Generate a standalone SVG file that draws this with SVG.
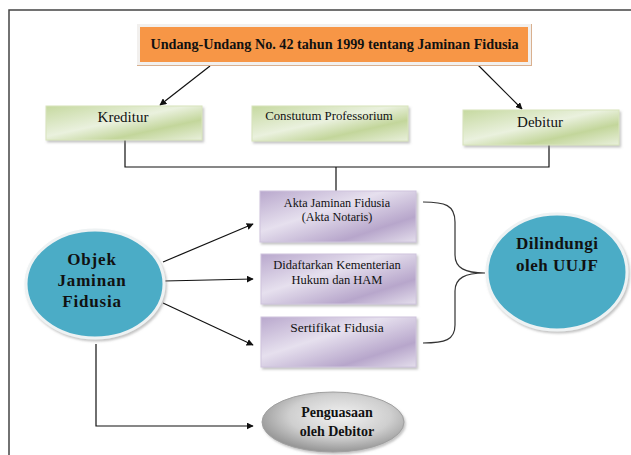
<svg xmlns="http://www.w3.org/2000/svg" width="631" height="455" viewBox="0 0 631 455" font-family="'Liberation Serif', serif">
<defs>
<style>
text{font-family:'Liberation Serif','Times New Roman',serif;fill:#111;text-anchor:middle}
.b{font-weight:bold}
.con{stroke:#111;stroke-width:1.2;fill:none}
.green{fill:url(#gGreen);stroke:#d8e4bc;stroke-width:1}
.purple{fill:url(#gPurple);stroke:#cfc4dd;stroke-width:1}
.teal{fill:#4bacc6;stroke:#eef2f3;stroke-width:3}
</style>
<linearGradient id="gGreen" x1="0" y1="0" x2="1" y2="1">
<stop offset="0" stop-color="#c6d9a0"/><stop offset="0.45" stop-color="#eaf1de"/><stop offset="0.7" stop-color="#c3d69b"/><stop offset="1" stop-color="#e9f0dc"/>
</linearGradient>
<linearGradient id="gPurple" x1="0" y1="0" x2="1" y2="1">
<stop offset="0" stop-color="#b9a8cd"/><stop offset="0.4" stop-color="#e6e0ee"/><stop offset="0.75" stop-color="#b7a6cb"/><stop offset="1" stop-color="#e4deec"/>
</linearGradient>
<radialGradient id="gGray" cx="0.55" cy="0.4" r="0.65">
<stop offset="0" stop-color="#f2f2f2"/><stop offset="0.55" stop-color="#cfcfcf"/><stop offset="1" stop-color="#8a8a8a"/>
</radialGradient>
<marker id="arr" viewBox="0 0 10 10" refX="9" refY="5" markerWidth="7" markerHeight="7" markerUnits="userSpaceOnUse" orient="auto">
<path d="M0,0 L10,5 L0,10 z" fill="#111"/>
</marker>
<filter id="sh" x="-10%" y="-10%" width="130%" height="140%">
<feDropShadow dx="1.5" dy="2" stdDeviation="1" flood-color="#888" flood-opacity="0.5"/>
</filter>
</defs>

<!-- frame -->
<path d="M9,455 V10 H631" fill="none" stroke="#444" stroke-width="1.5"/>

<g id="connectors">
<line class="con" x1="210" y1="66" x2="160" y2="105" marker-end="url(#arr)"/>
<line class="con" x1="475" y1="62" x2="522" y2="109" marker-end="url(#arr)"/>
<path class="con" d="M125,140 V167 H549 V145"/>
<line class="con" x1="336" y1="167" x2="336" y2="191"/>
<line class="con" x1="163" y1="262" x2="253" y2="224" marker-end="url(#arr)"/>
<line class="con" x1="164" y1="281" x2="253" y2="279" marker-end="url(#arr)"/>
<line class="con" x1="163" y1="303" x2="253" y2="345" marker-end="url(#arr)"/>
<path class="con" d="M96,344 V426 H253" marker-end="url(#arr)"/>
<path d="M423,202 C445,202 455,205 455,222 V255 C455,268 465,273 485,273 C465,273 455,278 455,291 V325 C455,340 445,343 423,343" fill="none" stroke="#333" stroke-width="1.2"/>
</g>

<g id="uu">
<rect x="137" y="24" width="395" height="42" fill="#d9b08f"/>
<rect x="138.5" y="25.5" width="391" height="38" fill="#f79646" stroke="#f2f0ee" stroke-width="3"/>
<text class="b" x="334.5" y="49" font-size="14.2">Undang-Undang No. 42 tahun 1999 tentang Jaminan Fidusia</text>
</g>

<g id="kreditur">
<rect class="green" x="46" y="106" width="156" height="34" filter="url(#sh)"/>
<text x="123" y="122" font-size="15">Kreditur</text>
</g>

<g id="constutum">
<rect class="green" x="252" y="106" width="156" height="35" filter="url(#sh)"/>
<text x="329" y="120" font-size="12.8">Constutum Professorium</text>
</g>

<g id="debitur">
<rect class="green" x="463" y="110" width="156" height="35" filter="url(#sh)"/>
<text x="540" y="127" font-size="15">Debitur</text>
</g>

<g id="akta">
<rect class="purple" x="260" y="191" width="156" height="51" filter="url(#sh)"/>
<text x="337" y="207" font-size="12.2">Akta Jaminan Fidusia</text>
<text x="337" y="221" font-size="12.2">(Akta Notaris)</text>
</g>

<g id="didaftarkan">
<rect class="purple" x="261" y="254" width="155" height="50" filter="url(#sh)"/>
<text x="337" y="269" font-size="12.5">Didaftarkan Kementerian</text>
<text x="337" y="284" font-size="12.5">Hukum dan HAM</text>
</g>

<g id="sertifikat">
<rect class="purple" x="261" y="317" width="155" height="50" filter="url(#sh)"/>
<text x="337" y="332" font-size="13.5">Sertifikat Fidusia</text>
</g>

<g id="objek">
<ellipse class="teal" cx="95" cy="284" rx="69" ry="54" filter="url(#sh)"/>
<text class="b" x="92" y="265" font-size="17" letter-spacing="0.8">Objek</text>
<text class="b" x="92" y="286" font-size="17" letter-spacing="0.8">Jaminan</text>
<text class="b" x="92" y="307" font-size="17" letter-spacing="0.8">Fidusia</text>
</g>

<g id="dilindungi">
<ellipse class="teal" cx="557" cy="272" rx="70" ry="58" filter="url(#sh)"/>
<text class="b" x="516" y="249" font-size="17" letter-spacing="0.5" style="text-anchor:start">Dilindungi</text>
<text class="b" x="516" y="271" font-size="17" letter-spacing="0.5" style="text-anchor:start">oleh UUJF</text>
</g>

<g id="penguasaan">
<ellipse cx="333" cy="422" rx="71" ry="30" fill="url(#gGray)" stroke="#a0a0a0" stroke-width="1" filter="url(#sh)"/>
<text class="b" x="337" y="417" font-size="14">Penguasaan</text>
<text class="b" x="337" y="436" font-size="14">oleh Debitor</text>
</g>
</svg>
